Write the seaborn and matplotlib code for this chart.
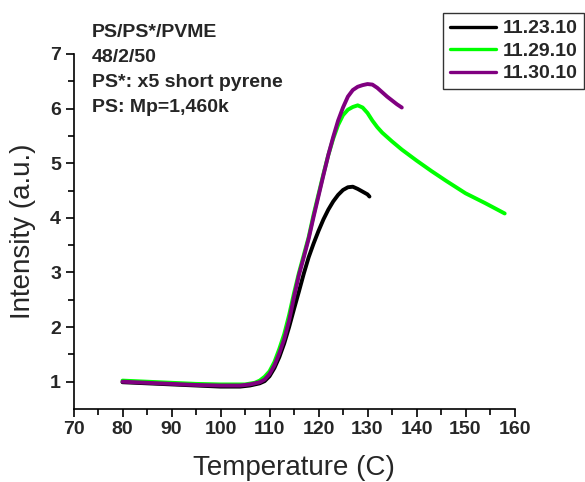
import numpy as np
import pandas as pd
import matplotlib
matplotlib.use("Agg")
import matplotlib.pyplot as plt
import seaborn as sns

# ---- data ----
temp_1123 = [80, 85, 90, 95, 100, 104, 106, 108, 109, 110, 111, 112, 113, 114, 115,
             116, 117, 118, 119, 120, 121, 122, 123, 124, 125, 126, 127, 128, 129, 130, 130.4]
int_1123 = [0.99, 0.97, 0.95, 0.93, 0.91, 0.91, 0.93, 0.97, 1.01, 1.10, 1.25, 1.45, 1.70, 2.00, 2.33,
            2.65, 2.98, 3.28, 3.53, 3.76, 3.97, 4.15, 4.30, 4.42, 4.51, 4.56, 4.57, 4.53, 4.48, 4.43, 4.39]

temp_1129 = [80, 85, 90, 95, 100, 105, 107, 108, 109, 110, 111, 112, 113, 114, 115,
             116, 117, 118, 119, 120, 121, 122, 123, 124, 125, 126, 127, 128, 129, 130,
             131, 132, 133, 135, 137, 140, 143, 146, 150, 154, 158]
int_1129 = [1.02, 1.00, 0.98, 0.96, 0.95, 0.95, 0.98, 1.02, 1.09, 1.19, 1.36, 1.60, 1.87, 2.22, 2.62,
            2.99, 3.32, 3.65, 4.06, 4.43, 4.80, 5.15, 5.45, 5.70, 5.88, 5.98, 6.03, 6.06, 6.02, 5.92,
            5.78, 5.66, 5.56, 5.40, 5.25, 5.05, 4.86, 4.68, 4.45, 4.27, 4.08]

temp_1130 = [80, 85, 90, 95, 100, 104, 106, 108, 109, 110, 111, 112, 113, 114, 115,
             116, 117, 118, 119, 120, 121, 122, 123, 124, 125, 126, 127, 128, 129, 130,
             131, 132, 133, 134, 135, 136, 137]
int_1130 = [1.00, 0.98, 0.96, 0.94, 0.93, 0.93, 0.95, 0.99, 1.04, 1.14, 1.30, 1.52, 1.78, 2.12, 2.55,
            2.95, 3.28, 3.62, 4.02, 4.40, 4.78, 5.15, 5.48, 5.78, 6.02, 6.22, 6.34, 6.40, 6.43, 6.45,
            6.44, 6.38, 6.30, 6.22, 6.15, 6.08, 6.02]

series_names = ["11.23.10", "11.29.10", "11.30.10"]
series_colors = ["#000000", "#00FF00", "#800080"]

x_ticks = [70, 80, 90, 100, 110, 120, 130, 140, 150, 160]
y_ticks = [1, 2, 3, 4, 5, 6, 7]
annotation_lines = ["PS/PS*/PVME", "48/2/50", "PS*: x5 short pyrene", "PS: Mp=1,460k"]

df = pd.concat([
    pd.DataFrame({"Temperature": temp_1123, "Intensity": int_1123, "run": series_names[0]}),
    pd.DataFrame({"Temperature": temp_1129, "Intensity": int_1129, "run": series_names[1]}),
    pd.DataFrame({"Temperature": temp_1130, "Intensity": int_1130, "run": series_names[2]}),
], ignore_index=True)

sns.set_theme(style="ticks")
plt.rcParams["font.family"] = ["Liberation Sans", "DejaVu Sans"]

W, H = 585, 482
fig = plt.figure(figsize=(W / 100, H / 100), dpi=100)
ax = fig.add_axes([73.5 / W, 1 - 409 / H, (514.5 - 73.5) / W, (409 - 54) / H])

sns.lineplot(data=df, x="Temperature", y="Intensity", hue="run",
             hue_order=series_names, palette=series_colors, linewidth=2.8,
             sort=False, estimator=None, ax=ax, legend=False)

ax.set_xlim(70, 160)
ax.set_ylim(0.5, 7)
ax.set_xticks(x_ticks)
ax.set_yticks(y_ticks)
ax.set_xticks(np.arange(75, 160, 10), minor=True)
ax.set_yticks(np.arange(1.5, 7, 1), minor=True)
ax.tick_params(axis="both", which="major", direction="out", length=6, width=1.2,
               labelsize=14, color="black", pad=3)
ax.tick_params(axis="both", which="minor", direction="out", length=4, width=1.2, color="black")
for lab in ax.get_xticklabels() + ax.get_yticklabels():
    lab.set_fontweight("bold")

for side in ["top", "right"]:
    ax.spines[side].set_visible(False)
for side in ["left", "bottom"]:
    ax.spines[side].set_linewidth(1.2)
    ax.spines[side].set_color("black")

ax.set_xlabel("Temperature (C)", fontsize=20, labelpad=12)
ax.set_ylabel("Intensity (a.u.)", fontsize=20, labelpad=10)

for i, t in enumerate(annotation_lines):
    fig.text(92 / W, 1 - (37 + 25 * i) / H, t, fontsize=14, fontweight="bold",
             ha="left", va="baseline")

handles = [plt.Line2D([], [], color=c, linewidth=2.4) for c in series_colors]
leg = fig.legend(handles, series_names, loc="upper right",
                 bbox_to_anchor=(584 / W, 1 - 13 / H), borderaxespad=0,
                 frameon=True, fancybox=False, edgecolor="black",
                 prop={"size": 14, "weight": "bold"},
                 handlelength=2.4, handletextpad=0.3, borderpad=0.35,
                 labelspacing=0.25)
leg.get_frame().set_linewidth(1.0)

fig.savefig("out.png", dpi=100)
